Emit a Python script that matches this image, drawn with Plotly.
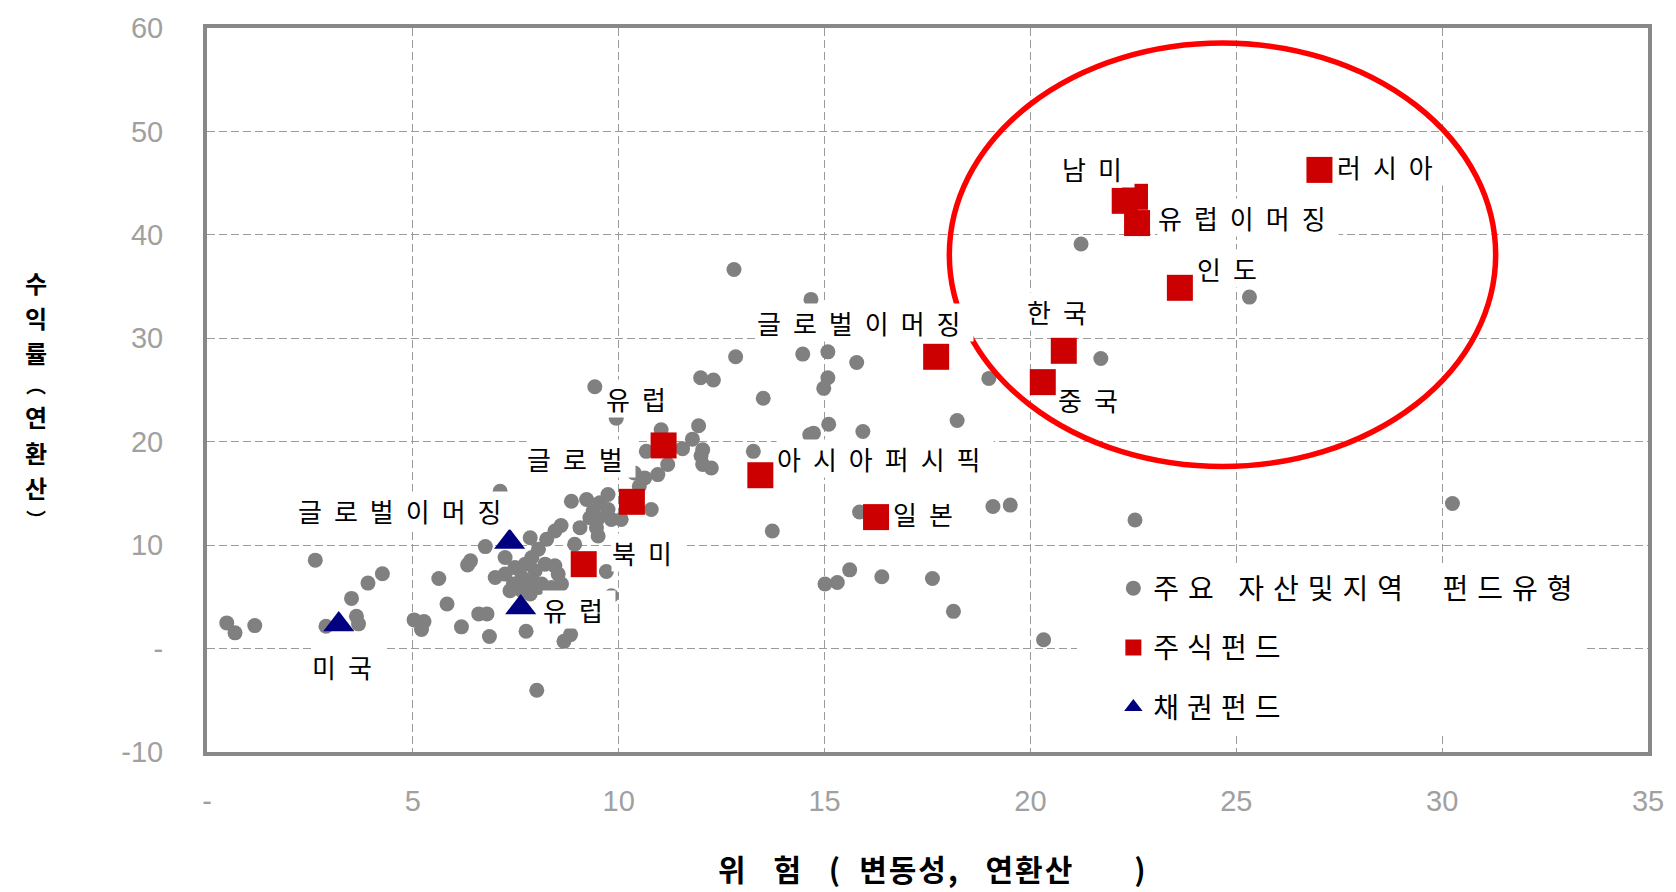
import plotly.graph_objects as go

# ---------------- data ----------------
# grey: major asset & regional fund types (risk, return)
grey_x = [0.48, 0.68, 1.16, 2.63, 2.89, 3.51, 3.63, 3.68, 3.91, 4.26,
          5.03, 5.27, 5.21, 5.63, 5.83, 6.18, 6.60, 6.80, 6.86, 6.40,
          6.33, 6.76, 7.12, 7.75, 8.01, 8.67, 8.83, 9.82, 9.70,
          8.85, 9.22, 9.74, 9.54, 9.38, 9.30, 9.50, 9.74, 9.82, 10.06,
          10.50, 10.63, 10.38, 10.67, 9.06, 9.50, 8.45, 8.60, 8.25, 7.85,
          8.05, 7.24, 7.00, 7.24, 7.48, 7.73, 7.89, 7.97, 8.21, 8.45,
          8.53, 8.61, 8.37, 8.13, 7.89, 7.65, 7.44, 7.36, 7.65, 7.85,
          8.05, 8.93, 9.46, 10.79, 10.95, 11.19, 11.03,
          12.80, 14.67, 12.84, 14.47, 15.08, 15.78, 11.99, 12.30, 15.08, 14.98,
          13.51, 9.42, 9.94, 11.94, 11.79, 12.04, 12.00, 12.04, 12.25, 11.55,
          13.27, 14.73, 15.10, 15.93, 13.73, 15.85,
          18.99, 21.71, 21.23, 25.32, 18.22, 14.64, 19.09, 19.51, 22.54, 15.61,
          15.31, 15.01, 16.39, 17.62, 18.13, 20.32, 30.25]
grey_y = [2.48, 1.52, 2.22, 8.55, 2.16, 4.85, 3.12, 2.39, 6.33, 7.23,
          2.77, 2.61, 1.84, 6.78, 4.31, 2.10, 3.35, 3.35, 1.16, 8.48,
          8.09, 9.86, 15.20, 1.67, -4.03, 0.70, 1.35, 5.11, 7.45,
          14.25, 14.42, 14.90, 14.09, 13.29, 12.65, 12.59, 13.45, 12.49, 12.49,
          15.70, 16.50, 16.98, 19.07, 11.69, 10.89, 11.37, 11.90, 10.57, 10.72,
          9.60, 8.80, 6.87, 7.20, 7.83, 8.16, 8.80, 7.52, 8.16, 8.00,
          7.20, 6.24, 5.91, 6.24, 6.55, 6.87, 6.24, 5.59, 5.59, 5.27,
          5.91, 10.09, 11.68, 13.45, 16.82, 17.79, 21.15,
          36.65, 33.76, 28.21, 28.47, 28.69, 27.66, 26.19, 25.97, 26.19, 25.16,
          24.20, 25.32, 22.27, 21.54, 20.25, 19.23, 18.65, 17.79, 17.46, 19.33,
          19.07, 20.83, 21.69, 20.99, 11.37, 13.20,
          26.12, 28.05, 39.11, 33.98, 22.05, 20.67, 13.74, 13.87, 12.43, 7.61,
          6.39, 6.24, 6.94, 6.78, 3.60, 0.85, 14.02]

# equity funds
eq_names = ["북미", "글로벌", "유럽", "아시아퍼시픽", "일본", "글로벌이머징",
            "중국", "한국", "인도", "유럽이머징", "남미", "", "러시아"]
eq_x = [9.15, 10.32, 11.09, 13.44, 16.25, 17.71, 20.30, 20.81, 23.63, 22.59, 22.29, 22.54, 27.02]
eq_y = [8.16, 14.19, 19.64, 16.76, 12.71, 28.21, 25.76, 28.79, 34.88, 41.14, 43.29, 43.68, 46.28]

# bond funds
bond_names = ["미국", "글로벌이머징", "유럽"]
bond_x = [3.20, 7.35, 7.62]
bond_y = [2.32, 10.30, 3.98]

x_tickvals = [0, 5, 10, 15, 20, 25, 30, 35]
x_ticktext = ["-", "5", "10", "15", "20", "25", "30", "35"]
y_tickvals = [-10, 0, 10, 20, 30, 40, 50, 60]
y_ticktext = ["-10", "-", "10", "20", "30", "40", "50", "60"]

legend_names = ["주요 자산및지역\u00a0 펀드유형", "주식펀드", "채권펀드"]
x_title = "위\u2002 험\u2002 (\u2002변동성,\u2002 연환산\u2002\u2002\u2002 )"
y_title_chars = ["수", "익", "률", "︵", "연", "환", "산", "︶"]

# highlight ellipse (data coords)
ellipse_box = dict(x0=18.03, x1=31.30, y0=17.60, y1=58.55)

# ---------------- styles ----------------
KR = "Noto Sans CJK KR"
LAB_SIZE = 26
LAB_LS = 12

# label placement: (xanchor, xshift px, yshift px)
eq_label_pos = {
    "북미": ("left", 27, 12),
    "글로벌": ("right", 4, 43),
    "유럽": ("right", 15, 47),
    "아시아퍼시픽": ("left", 16, 17),
    "일본": ("left", 16, 4),
    "글로벌이머징": ("right", 38, 34),
    "중국": ("left", 14, -17),
    "한국": ("center", -1, 39),
    "인도": ("left", 16, 19),
    "유럽이머징": ("left", 20, 6),
    "남미": ("right", 10, 32),
    "러시아": ("left", 17, 3),
}
bond_label_pos = {
    "미국": ("center", 9, -42),
    "글로벌이머징": ("right", 5, 32),
    "유럽": ("left", 21, -2),
}


def spaced(t, ls):
    return f'<span style="letter-spacing:{ls}px">{t}</span>'


fig = go.Figure()

fig.add_trace(go.Scatter(
    x=grey_x, y=grey_y, mode="markers", name=spaced(legend_names[0], 9),
    legendgroup="g1",
    marker=dict(symbol="circle", size=15, color="#808080"),
    hoverinfo="x+y"))
fig.add_trace(go.Scatter(
    x=eq_x, y=eq_y, mode="markers", name=spaced(legend_names[1], 8),
    legendgroup="g2",
    marker=dict(symbol="square", size=26, color="#cc0000"),
    text=eq_names, hoverinfo="text+x+y"))
fig.add_trace(go.Scatter(
    x=bond_x, y=bond_y, mode="markers", name=spaced(legend_names[2], 8),
    legendgroup="g3",
    marker=dict(symbol="triangle-up", size=27, color="#000080"),
    text=bond_names, hoverinfo="text+x+y"))

annotations = []
for names, xs, ys, pos in [(eq_names, eq_x, eq_y, eq_label_pos),
                           (bond_names, bond_x, bond_y, bond_label_pos)]:
    for n, xv, yv in zip(names, xs, ys):
        if not n:
            continue
        xa, xs_, ys_ = pos[n]
        annotations.append(dict(
            x=xv, y=yv, xref="x", yref="y", text=spaced(n, LAB_LS),
            showarrow=False, xanchor=xa, yanchor="middle",
            xshift=xs_, yshift=ys_, bgcolor="white", borderpad=0,
            font=dict(family=KR, size=LAB_SIZE, color="black")))

# x axis title
annotations.append(dict(
    x=0.5035, y=-0.16, xref="paper", yref="paper", showarrow=False,
    text=spaced(x_title, 2), xanchor="center", yanchor="middle", borderpad=0,
    font=dict(family=KR, size=30, color="black", weight="bold")))

# y axis title: upright characters stacked vertically
BOX = 1.45  # line box height per font px
sizes = [20 if ch in "︵︶" else 24 for ch in y_title_chars]
offsets = [0.0]
for a, b in zip(sizes[:-1], sizes[1:]):
    offsets.append(offsets[-1] + (a + b) / 2 * BOX + 0.3)
mid = offsets[-1] / 2
for ch, sz, off in zip(y_title_chars, sizes, offsets):
    annotations.append(dict(
        x=-0.119, y=0.485, xref="paper", yref="paper", showarrow=False,
        text=ch, xanchor="center", yanchor="middle", borderpad=0,
        yshift=mid - off,
        font=dict(family=KR, size=sz, color="black", weight="bold")))

axis_common = dict(
    showgrid=True, gridcolor="#9a9a9a", gridwidth=1, griddash="8px,4px",
    showline=True, linecolor="#888888", linewidth=4, mirror=True,
    zeroline=False, ticks="",
    tickfont=dict(family="Liberation Sans", size=29, color="#a0a0a0"),
)

fig.update_layout(
    width=1676, height=892,
    margin=dict(l=207, r=20, t=27, b=140),
    paper_bgcolor="white", plot_bgcolor="white",
    xaxis=dict(range=[0, 35], tickmode="array", tickvals=x_tickvals,
               ticktext=x_ticktext, ticklabelstandoff=20, **axis_common),
    yaxis=dict(range=[-10, 60], tickmode="array", tickvals=y_tickvals,
               ticktext=y_ticktext, ticklabelstandoff=34, **axis_common),
    showlegend=True,
    legend=dict(x=0.604, xanchor="left", y=0.027, yanchor="bottom",
                bgcolor="white", borderwidth=0, tracegroupgap=20,
                indentation=36, itemsizing="trace",
                font=dict(family=KR, size=28, color="black")),
    shapes=[dict(type="circle", xref="x", yref="y", layer="above",
                 line=dict(color="#ff0000", width=5.5), **ellipse_box)],
    annotations=annotations,
)

fig.write_html("out.html", include_plotlyjs=True, full_html=True,
               config={"displayModeBar": False},
               post_script="document.body.style.margin='0';")
